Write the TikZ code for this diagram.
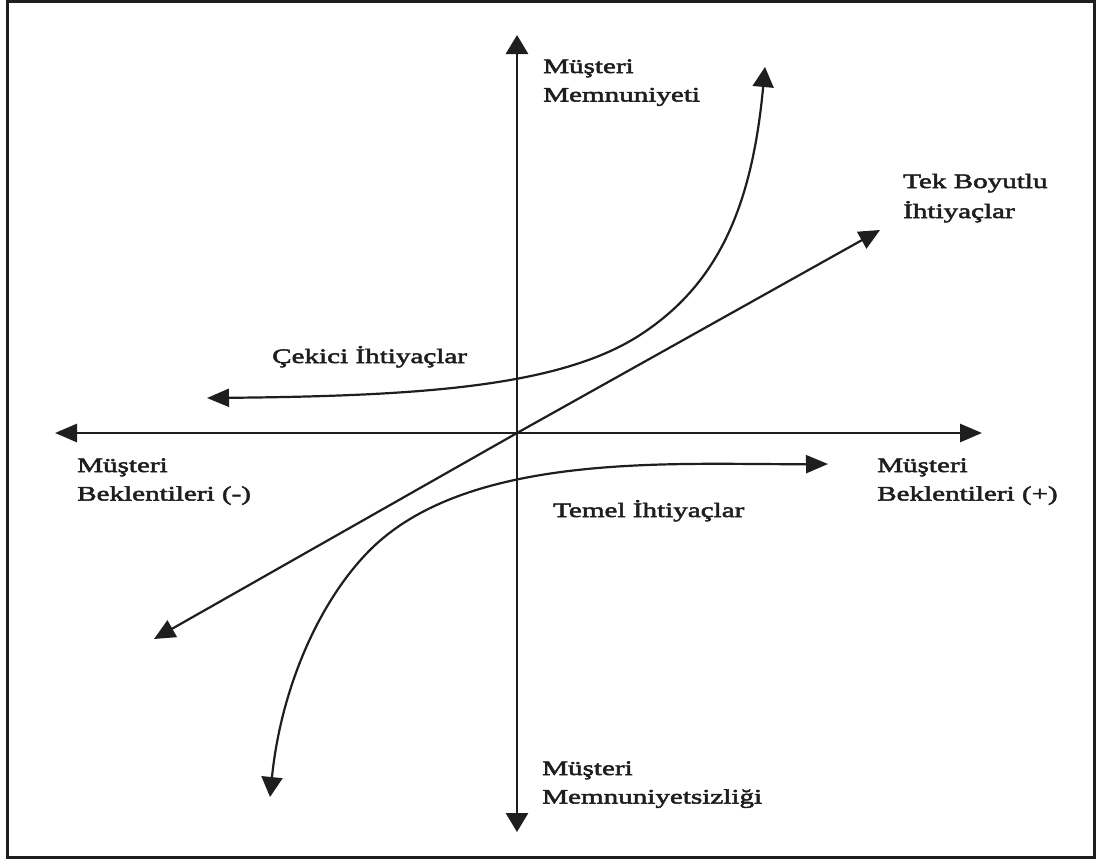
\documentclass[tikz,border=0pt]{standalone}
\usepackage{fontspec}
\setmainfont[FakeStretch=1.42,FakeBold=2.5]{Liberation Serif}
\usetikzlibrary{arrows.meta}
\definecolor{ink}{HTML}{1E1E1E}
\begin{document}
\begin{tikzpicture}[x=1pt,y=-1pt,
  axis/.style={line width=2.8pt, draw=ink},
  curve/.style={line width=2.2pt, draw=ink},
  htip/.style={-{Triangle[length=22pt,width=18pt]}},
  vtip/.style={-{Triangle[length=19pt,width=22pt]}},
  dtip/.style={-{Triangle[length=21pt,width=19pt]}},
  bothtips/.style={{Triangle[length=22pt,width=18pt]}-{Triangle[length=20pt,width=21pt]}},
  lbl/.style={font=\fontsize{20.5}{28.5}\selectfont, text=ink, anchor=base west, inner sep=0pt},
]
\useasboundingbox (0,0) rectangle (1099,860);
\fill[white] (0,0) rectangle (1099,860);

% outer frame
\draw[line width=3pt, draw=ink] (7.5,1.5) rectangle (1094.5,857.5);

% axes
\coordinate (O) at (517,433);
\coordinate (xneg) at (55,433);
\coordinate (xpos) at (982,433);
\coordinate (ypos) at (517,35);
\coordinate (yneg) at (517,832);
\draw[axis, htip] (O) -- (xpos);
\draw[axis, htip] (O) -- (xneg);
\draw[axis, vtip] (O) -- (ypos);
\draw[axis, vtip] (O) -- (yneg);

% one-dimensional requirements: straight line through the origin
\coordinate (dlow) at (154,639);
\coordinate (dhigh) at (880,230);
\draw[curve, dtip] (O) -- (dhigh);
\draw[curve, dtip] (O) -- (dlow);

% attractive requirements
\coordinate (aL) at (207,398);
\coordinate (aJ) at (643,333);
\coordinate (aT) at (765,67);
\draw[curve, bothtips] (aL) .. controls (420,396) and (563,387) .. (aJ)
  .. controls (718,283) and (752,207) .. (aT);

% basic requirements
\coordinate (bR) at (828,464);
\coordinate (bJ) at (370,550);
\coordinate (bB) at (270,797);
\draw[curve, bothtips] (bR) .. controls (680,465) and (470,450) .. (bJ)
  .. controls (320,600) and (281,687) .. (bB);

% labels
\node[lbl] (ysat) at (543,73) {\begin{tabular}[t]{@{}l@{}}Müşteri\\Memnuniyeti\end{tabular}};
\node[lbl] (ydis) at (542,775) {\begin{tabular}[t]{@{}l@{}}Müşteri\\Memnuniyetsizliği\end{tabular}};
\node[lbl] (xminus) at (77,472) {\begin{tabular}[t]{@{}l@{}}Müşteri\\Beklentileri (-)\end{tabular}};
\node[lbl] (xplus) at (877,472) {\begin{tabular}[t]{@{}l@{}}Müşteri\\Beklentileri (+)\end{tabular}};
\node[lbl, font=\fontsize{20.5}{30}\selectfont] (onedim) at (903,188) {\begin{tabular}[t]{@{}l@{}}Tek Boyutlu\\İhtiyaçlar\end{tabular}};
\node[lbl] (attr) at (272,363) {Çekici İhtiyaçlar};
\node[lbl] (basic) at (553,517) {Temel İhtiyaçlar};
\end{tikzpicture}
\end{document}
